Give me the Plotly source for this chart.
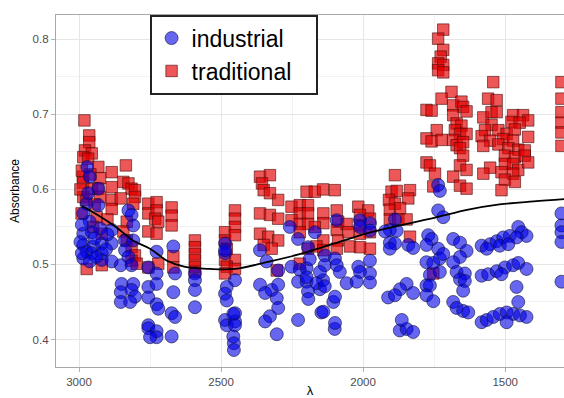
import plotly.graph_objects as go

# ---------------- data ----------------
industrial_x = [
    2971, 2962, 2932, 2973, 2932, 2985, 2962, 2985, 2955, 2926, 2885, 2985, 2950, 2920, 2885,
    2973, 2955, 2920, 2985, 2962, 2920, 2885, 2826, 2815, 2809, 2838, 2809, 2838, 2826, 2853,
    2815, 2850, 2809, 2853, 2815, 2803, 2853, 2820, 2995, 2990, 2945, 2940, 2905, 2900, 2968, 2990,
    2727, 2756, 2727, 2756, 2727, 2756, 2727, 2721, 2756, 2756, 2727, 2727, 2750,
    2668, 2662, 2668, 2674, 2662, 2674,
    2592, 2592, 2592, 2592,
    2486, 2486, 2451, 2480, 2486, 2480, 2451, 2486, 2480, 2451, 2457, 2455, 2455, 2486, 2457, 2451,
    2363, 2340, 2299, 2363, 2345, 2322, 2299, 2304, 2299, 2328, 2345, 2304,
    2258, 2229, 2252, 2223, 2199, 2229, 2199, 2194, 2229, 2194, 2188,
    2199, 2152, 2105, 2147, 2100, 2193, 2141,
    2170, 2135, 2135, 2152, 2164, 2135, 2093, 2099, 2093, 2082, 2099, 2140, 2099, 2058,
    2011, 1976, 2017, 2011, 1976, 2023, 2011, 1976, 1976, 1976,
    1888, 1906, 1882, 1906, 1888, 1841, 1824, 1906, 1847, 1870, 1824, 1912, 1888, 1871, 1847,
    1824, 1923, 1864,
    1736, 1730, 1736, 1718, 1771, 1759, 1777, 1736, 1777, 1753, 1730, 1718, 1765, 1730, 1777,
    1765, 1777, 1753,
    1683, 1659, 1636, 1659, 1683, 1671, 1642, 1659, 1642, 1648, 1683, 1671, 1648, 1630,
    1583, 1553, 1530, 1507, 1484, 1454, 1442, 1425, 1460, 1519, 1489, 1565, 1583, 1560, 1530,
    1501, 1472, 1454, 1425, 1513, 1460, 1583, 1565, 1542, 1519, 1495, 1472, 1448, 1425, 1495, 1454,
    1302, 1302, 1302, 1302, 1302,
]
industrial_y = [
    0.630, 0.617, 0.601, 0.581, 0.579, 0.568, 0.557, 0.541, 0.543, 0.548, 0.546, 0.526, 0.524, 0.528, 0.528,
    0.517, 0.515, 0.515, 0.508, 0.504, 0.506, 0.504, 0.572, 0.566, 0.552, 0.532, 0.532, 0.519, 0.510, 0.499,
    0.499, 0.474, 0.474, 0.463, 0.466, 0.457, 0.450, 0.450, 0.530, 0.515, 0.535, 0.510, 0.520, 0.540, 0.595, 0.553,
    0.517, 0.496, 0.488, 0.470, 0.474, 0.456, 0.447, 0.441, 0.419, 0.415, 0.411, 0.403, 0.403,
    0.524, 0.488, 0.463, 0.435, 0.430, 0.404,
    0.488, 0.479, 0.466, 0.443,
    0.528, 0.515, 0.479, 0.470, 0.461, 0.452, 0.435, 0.426, 0.419, 0.424, 0.404, 0.395, 0.386, 0.519, 0.434, 0.419,
    0.519, 0.504, 0.492, 0.473, 0.462, 0.466, 0.473, 0.455, 0.442, 0.431, 0.424, 0.407,
    0.550, 0.534, 0.497, 0.493, 0.495, 0.477, 0.477, 0.464, 0.426, 0.523, 0.507,
    0.483, 0.467, 0.450, 0.436, 0.414, 0.454, 0.479,
    0.543, 0.512, 0.499, 0.490, 0.475, 0.471, 0.559, 0.508, 0.499, 0.490, 0.457, 0.437, 0.422, 0.475,
    0.559, 0.555, 0.497, 0.490, 0.488, 0.477, 0.550, 0.545, 0.505, 0.476,
    0.560, 0.546, 0.545, 0.529, 0.528, 0.526, 0.522, 0.521, 0.474, 0.467, 0.462, 0.456, 0.459, 0.412, 0.414,
    0.410, 0.544, 0.426,
    0.606, 0.598, 0.572, 0.563, 0.539, 0.534, 0.526, 0.521, 0.503, 0.502, 0.508, 0.514, 0.486, 0.490, 0.472,
    0.472, 0.459, 0.451,
    0.534, 0.529, 0.518, 0.510, 0.503, 0.490, 0.488, 0.480, 0.478, 0.465, 0.450, 0.442, 0.438, 0.436,
    0.525, 0.527, 0.531, 0.536, 0.538, 0.550, 0.543, 0.538, 0.536, 0.525, 0.527, 0.521, 0.485, 0.487, 0.491,
    0.496, 0.499, 0.502, 0.494, 0.487, 0.470, 0.423, 0.426, 0.430, 0.434, 0.436, 0.434, 0.432, 0.430, 0.423, 0.450,
    0.568, 0.552, 0.543, 0.530, 0.477,
]

traditional_x = [
    2981, 2964, 2964, 2979, 2955, 2985, 2968, 2932, 2986, 2926, 2986, 2955, 2932, 2985, 2926,
    2974, 2991, 2938, 2950, 2920, 2973, 2920, 2885, 2885, 2885, 2885, 2835, 2844, 2826, 2815,
    2803, 2803, 2809, 2853, 2832, 2844, 2832, 2815, 2803, 2815, 2797, 2995, 2990, 2960, 2945, 2900,
    2756, 2727, 2756, 2727, 2732, 2721, 2756, 2727, 2756, 2721, 2674, 2674, 2674, 2668, 2668,
    2592, 2592, 2592, 2592, 2592, 2592,
    2486, 2486, 2480, 2451, 2451, 2451, 2451, 2486, 2451, 2480, 2451, 2486,
    2363, 2328, 2356, 2350, 2328, 2299, 2363, 2328, 2299, 2363, 2334, 2299, 2350, 2322, 2304,
    2252, 2223, 2194, 2223, 2194, 2252, 2223, 2194, 2223, 2194, 2223, 2199, 2170, 2141, 2100,
    2140, 2140, 2170, 2140, 2164, 2140, 2093, 2088, 2093, 2088, 2093, 2058, 2052, 2046,
    2017, 1982, 2011, 1976, 2011, 1976, 2011, 1976, 2011,
    1888, 1900, 1882, 1835, 1909, 1888, 1841, 1906, 1906, 1876, 1847, 1835, 1870,
    1718, 1736, 1718, 1727, 1736, 1718, 1736, 1718, 1689, 1724, 1777, 1759, 1741, 1777, 1759,
    1724, 1777, 1765, 1747, 1753, 1753,
    1683, 1654, 1648, 1636, 1683, 1671, 1654, 1677, 1659, 1636, 1683, 1671, 1648, 1659, 1648,
    1659, 1636, 1683, 1659, 1636,
    1542, 1560, 1530, 1577, 1548, 1530, 1472, 1437, 1419, 1548, 1478, 1449, 1571, 1524, 1495,
    1466, 1419, 1583, 1553, 1507, 1472, 1577, 1524, 1489, 1454, 1431, 1501, 1466, 1431, 1553,
    1501, 1472, 1454, 1419, 1577, 1513, 1472, 1501, 1466, 1513,
    1302, 1302, 1302, 1302, 1302, 1302,
]
traditional_y = [
    0.692, 0.672, 0.663, 0.652, 0.648, 0.643, 0.641, 0.630, 0.617, 0.615, 0.609, 0.601, 0.601, 0.590, 0.590,
    0.586, 0.568, 0.563, 0.550, 0.541, 0.494, 0.499, 0.623, 0.603, 0.586, 0.574, 0.632, 0.610, 0.608, 0.601,
    0.599, 0.590, 0.581, 0.588, 0.557, 0.544, 0.532, 0.523, 0.512, 0.505, 0.501, 0.600, 0.625, 0.620, 0.580, 0.560,
    0.581, 0.583, 0.568, 0.572, 0.561, 0.557, 0.544, 0.541, 0.496, 0.501, 0.576, 0.565, 0.552, 0.511, 0.496,
    0.532, 0.523, 0.514, 0.506, 0.497, 0.490,
    0.543, 0.532, 0.521, 0.572, 0.561, 0.550, 0.539, 0.506, 0.506, 0.497, 0.494, 0.488,
    0.617, 0.619, 0.608, 0.599, 0.595, 0.586, 0.568, 0.566, 0.561, 0.541, 0.537, 0.532, 0.526, 0.521, 0.492,
    0.577, 0.579, 0.579, 0.568, 0.568, 0.559, 0.554, 0.554, 0.543, 0.521, 0.501, 0.597, 0.597, 0.600, 0.599,
    0.568, 0.555, 0.550, 0.532, 0.524, 0.519, 0.572, 0.557, 0.546, 0.532, 0.521, 0.554, 0.543, 0.524,
    0.577, 0.572, 0.566, 0.561, 0.552, 0.543, 0.541, 0.521, 0.523,
    0.619, 0.597, 0.598, 0.599, 0.586, 0.581, 0.588, 0.573, 0.560, 0.560, 0.560, 0.537, 0.575,
    0.813, 0.801, 0.786, 0.777, 0.768, 0.766, 0.759, 0.756, 0.730, 0.721, 0.706, 0.705, 0.679, 0.668, 0.664,
    0.666, 0.636, 0.632, 0.621, 0.604, 0.488,
    0.712, 0.717, 0.710, 0.704, 0.699, 0.688, 0.685, 0.679, 0.674, 0.674, 0.666, 0.659, 0.663, 0.655, 0.645,
    0.632, 0.626, 0.617, 0.605, 0.601,
    0.743, 0.721, 0.719, 0.696, 0.703, 0.703, 0.699, 0.699, 0.692, 0.686, 0.690, 0.689, 0.679, 0.679, 0.674,
    0.680, 0.670, 0.671, 0.665, 0.667, 0.665, 0.658, 0.660, 0.655, 0.653, 0.652, 0.645, 0.643, 0.645, 0.629,
    0.634, 0.634, 0.626, 0.636, 0.621, 0.623, 0.621, 0.613, 0.610, 0.599,
    0.743, 0.721, 0.703, 0.689, 0.676, 0.658,
]

# smooth fit line
smooth_x = [2990, 2930, 2870, 2810, 2750, 2690, 2630, 2540, 2450, 2340, 2220, 2100, 1990, 1870, 1750, 1630, 1520, 1400, 1293]
smooth_y = [0.578, 0.565, 0.550, 0.532, 0.521, 0.505, 0.497, 0.494, 0.494, 0.503, 0.514, 0.528, 0.541, 0.552, 0.562, 0.573, 0.580, 0.584, 0.587]

x_ticks = [3000, 2500, 2000, 1500]
x_labels = ["3000", "2500", "2000", "1500"]
y_ticks = [0.4, 0.5, 0.6, 0.7, 0.8]
y_labels = ["0.4", "0.5", "0.6", "0.7", "0.8"]

FONT = "Liberation Sans, Arial, Helvetica, sans-serif"
PAD = "\u00a0\u00a0\u00a0"  # widen legend box like the reference

fig = go.Figure()
fig.add_trace(go.Scatter(
    x=traditional_x, y=traditional_y, mode="markers", name="traditional" + PAD, legendrank=2,
    marker=dict(symbol="square", size=11.5, color="rgba(228,0,0,0.66)",
                line=dict(color="rgba(70,10,10,0.75)", width=0.8)),
))
fig.add_trace(go.Scatter(
    x=industrial_x, y=industrial_y, mode="markers", name="industrial", legendrank=1,
    marker=dict(symbol="circle", size=13, color="rgba(0,0,232,0.6)",
                line=dict(color="rgba(15,15,60,0.75)", width=0.8)),
))
fig.add_trace(go.Scatter(
    x=smooth_x, y=smooth_y, mode="lines", line=dict(color="black", width=1.8, shape="spline"),
    showlegend=False, hoverinfo="skip",
))

fig.update_layout(
    width=564, height=398,
    margin=dict(l=56, r=0, t=15, b=31, autoexpand=False),
    paper_bgcolor="white", plot_bgcolor="white",
    font=dict(family=FONT, color="#4D4D4D", size=11.5),
    legend=dict(
        x=0.185, y=1, xanchor="left", yanchor="top",
        bgcolor="white", bordercolor="#222222", borderwidth=1.6,
        font=dict(family=FONT, size=23, color="black"),
        itemsizing="trace", tracegroupgap=0,
    ),
    showlegend=True,
)
fig.update_xaxes(
    range=[3081, 1293], autorange=False,
    tickvals=x_ticks, ticktext=x_labels,
    showgrid=True, gridcolor="#E6E6E6", gridwidth=1,
    minor=dict(tickvals=[2750, 2250, 1750], showgrid=True, gridcolor="#F2F2F2", gridwidth=0.8, ticks=""),
    showline=True, linecolor="#A8A8A8", linewidth=1.2, mirror=True,
    ticks="outside", ticklen=4, tickcolor="#B3B3B3", tickwidth=1,
    tickfont=dict(size=11.5, color="#4D4D4D"),
    zeroline=False,
    title=dict(text="λ", font=dict(size=13, color="black"), standoff=4),
    automargin=False,
)
fig.update_yaxes(
    range=[0.3633, 0.8325], autorange=False,
    tickvals=y_ticks, ticktext=y_labels,
    showgrid=True, gridcolor="#E6E6E6", gridwidth=1,
    minor=dict(tickvals=[0.45, 0.55, 0.65, 0.75], showgrid=True, gridcolor="#F2F2F2", gridwidth=0.8, ticks=""),
    showline=True, linecolor="#A8A8A8", linewidth=1.2, mirror=False,
    ticks="outside", ticklen=4, tickcolor="#B3B3B3", tickwidth=1,
    tickfont=dict(size=11.5, color="#4D4D4D"),
    zeroline=False,
    title=dict(text="Absorbance", font=dict(size=12, color="black"), standoff=10),
    automargin=False,
)

fig.write_html(
    "out.html",
    config={"displayModeBar": False},
    post_script="document.body.style.margin='0';document.body.style.overflow='hidden';",
)
